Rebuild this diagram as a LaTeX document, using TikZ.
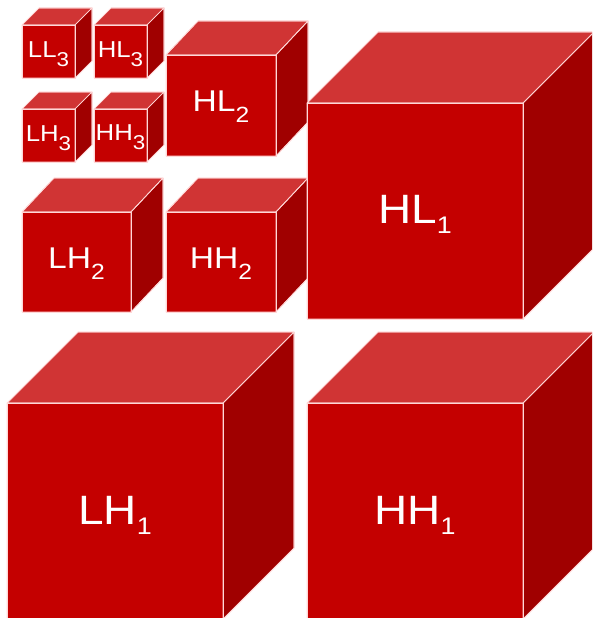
\documentclass[tikz,border=0pt]{standalone}
\usepackage{fontspec}
\setmainfont{Liberation Sans}
\usepackage{graphicx}
\definecolor{frontc}{RGB}{196,0,0}
\definecolor{topc}{RGB}{208,52,52}
\definecolor{sidec}{RGB}{160,0,0}
\definecolor{edgec}{RGB}{255,215,215}
\tikzset{
  frontface/.style={fill=frontc, draw=edgec, line width=0.7pt, line join=round},
  topface/.style={fill=topc, draw=edgec, line width=0.7pt, line join=round},
  sideface/.style={fill=sidec, draw=edgec, line width=0.7pt, line join=round},
  cubelabel/.style={text=white, inner sep=0pt, anchor=base}
}
% #1 name, #2 x, #3 y(top of front), #4 w, #5 h, #6 dx, #7 dy
\newcommand\mycube[7]{%
  \fill[topface] (#2,#3) -- ++(#6,-#7) -- ++(#4,0) -- ++(-#6,#7) -- cycle;
  \fill[sideface] (#2+#4,#3) -- ++(#6,-#7) -- ++(0,#5) -- ++(-#6,#7) -- cycle;
  \fill[frontface] (#2,#3) rectangle ++(#4,#5);
  \draw[edgec, line width=0.7pt, line join=round] (#2,#3) -- ++(#6,-#7) -- ++(#4,0) -- ++(-#6,#7) -- cycle
     (#2+#4,#3) -- ++(#6,-#7) -- ++(0,#5) -- ++(-#6,#7) -- cycle
     (#2,#3) rectangle ++(#4,#5);
  \coordinate (#1) at ({#2+#4/2},{#3+#5/2});
}
% label: #1 main size, #2 sub size, #3 lowering, #4 text, #5 sub
\newcommand\cubelbl[5]{\scalebox{1.12}[1]{{\fontsize{#1}{#1}\selectfont #4}\raisebox{-#3pt}{\fontsize{#2}{#2}\selectfont #5}}}
\begin{document}
\begin{tikzpicture}[x=1pt, y=-1pt]
\useasboundingbox (0,0) rectangle (592,618);
\clip (0,0) rectangle (592,618);
% small cubes
\mycube{ll3}{22}{25}{53}{53}{17}{17}
\mycube{hl3}{94}{25}{53}{53}{17}{17}
\mycube{lh3}{22}{109}{53}{53}{17}{17}
\mycube{hh3}{94}{109}{53}{53}{17}{17}
% medium cubes
\mycube{hl2}{166}{55}{110}{101}{32}{34}
\mycube{lh2}{22}{212}{109}{100}{32}{34}
\mycube{hh2}{166}{212}{110}{100}{32}{34}
% big cubes
\mycube{hl1}{307}{103}{216}{216}{71}{71}
\mycube{lh1}{7}{403}{216}{216}{71}{71}
\mycube{hh1}{307}{403}{216}{216}{71}{71}
% labels
\node[cubelabel] (tll3) at ([yshift=-6pt]ll3) {\cubelbl{23}{20}{9}{LL}{3}};
\node[cubelabel] (thl3) at ([yshift=-6pt]hl3) {\cubelbl{23}{20}{9}{HL}{3}};
\node[cubelabel] (tlh3) at ([yshift=-6pt]lh3) {\cubelbl{23}{20}{9}{LH}{3}};
\node[cubelabel] (thh3) at ([yshift=-5pt]hh3) {\cubelbl{23}{20}{9}{HH}{3}};
\node[cubelabel] (thl2) at ([yshift=-6pt]hl2) {\cubelbl{30}{22}{11}{HL}{2}};
\node[cubelabel] (tlh2) at ([yshift=-6pt]lh2) {\cubelbl{30}{22}{11}{LH}{2}};
\node[cubelabel] (thh2) at ([yshift=-6pt]hh2) {\cubelbl{30}{22}{11}{HH}{2}};
\node[cubelabel] (thl1) at ([yshift=-12pt]hl1) {\cubelbl{41}{24}{10}{HL}{1}};
\node[cubelabel] (tlh1) at ([yshift=-13pt]lh1) {\cubelbl{41}{24}{10}{LH}{1}};
\node[cubelabel] (thh1) at ([yshift=-13pt]hh1) {\cubelbl{41}{24}{10}{HH}{1}};
\end{tikzpicture}
\end{document}
